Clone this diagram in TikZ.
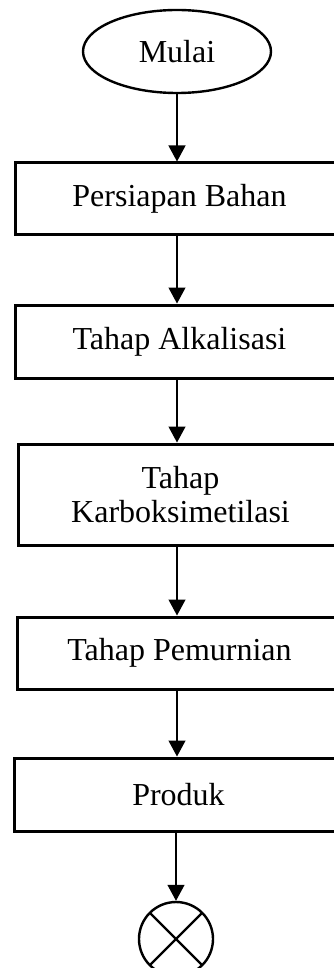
\documentclass[tikz,border=0pt]{standalone}
\usepackage{fontspec}
\setmainfont{Liberation Serif}
\usetikzlibrary{arrows.meta,shapes.geometric}
\begin{document}
\begin{tikzpicture}[x=1pt,y=-1pt,
  every node/.style={font=\fontsize{32}{36}\selectfont},
  procbox/.style={draw, line width=3pt, anchor=west, minimum width=328pt, align=center, inner sep=0pt},
  arr/.style={line width=1.2pt, -{Triangle[length=16pt,width=17pt]}},
  ]
\useasboundingbox (0,0) rectangle (334,968);
\clip (0,0) rectangle (334,968);
\node[draw, ellipse, line width=2.4pt, minimum width=188pt, minimum height=83pt, inner sep=0pt] (m) at (177,51.5) {Mulai};
\node[procbox, minimum height=72pt] (b1) at (14,199) {Persiapan Bahan};
\node[procbox, minimum height=73pt] (b2) at (14,341.5) {Tahap Alkalisasi};
\node[procbox, minimum height=101pt, minimum width=324pt] (b3) at (17,494.5) {Tahap\\[-2pt]Karboksimetilasi};
\node[procbox, minimum height=72pt, minimum width=324pt] (b4) at (16,653) {Tahap Pemurnian};
\node[procbox, minimum height=73pt] (b5) at (13,794.5) {Produk};
\node[draw, circle, line width=2.4pt, minimum size=74pt, inner sep=0pt,
  path picture={\draw[line width=2.4pt] (path picture bounding box.north west) -- (path picture bounding box.south east)
  (path picture bounding box.north east) -- (path picture bounding box.south west);}] (c) at (176,939) {};
\draw[arr] (m.south) -- (m.south |- b1.north);
\draw[arr] (b1.south -| m.south) -- (m.south |- b2.north);
\draw[arr] (b2.south -| m.south) -- (m.south |- b3.north);
\draw[arr] (b3.south -| m.south) -- (m.south |- b4.north);
\draw[arr] (b4.south -| m.south) -- (m.south |- b5.north);
\draw[arr] (b5.south -| c.north) -- (c.north);
\end{tikzpicture}
\end{document}
